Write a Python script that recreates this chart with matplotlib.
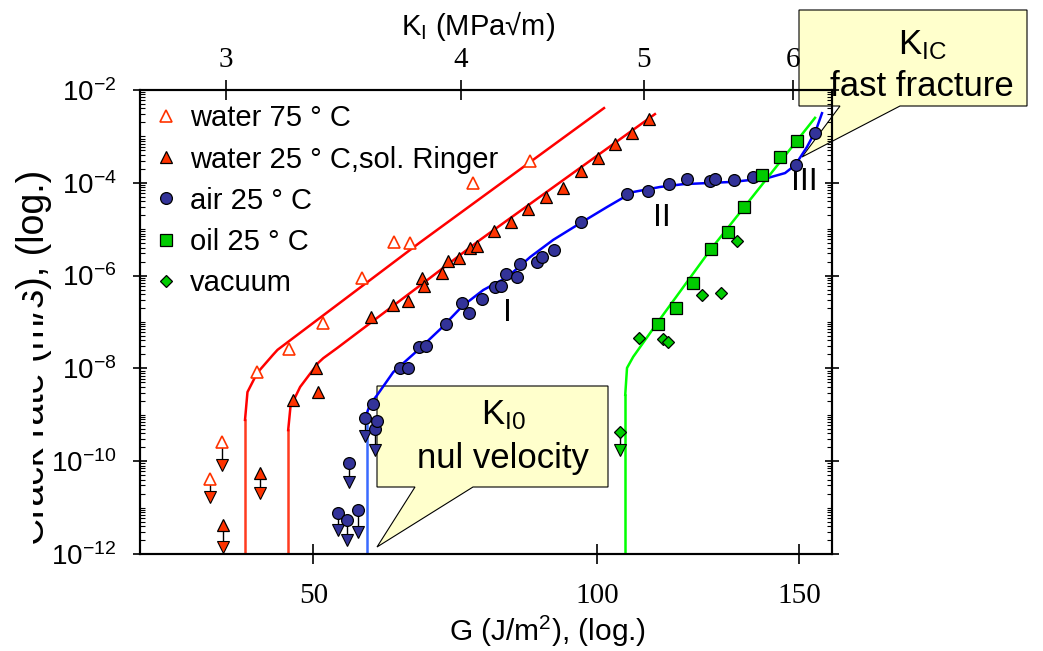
import numpy as np
import matplotlib
matplotlib.use('Agg')
import matplotlib.pyplot as plt
from matplotlib.patches import Polygon, Rectangle
from matplotlib.ticker import FixedLocator, FuncFormatter, NullLocator, NullFormatter

plt.rcParams['font.family'] = ['Liberation Sans', 'DejaVu Sans']
plt.rcParams['mathtext.default'] = 'regular'

# ---- data: G in J/m^2, crack rate as log10(v / (m/s)) ----
# water 75 C
w75_G = [42.6, 46.7, 51.3, 57.1, 62.0, 64.6, 75.5, 86.2]
w75_logv = [-8.08, -7.58, -7.02, -6.05, -5.28, -5.30, -4.00, -3.53]
w75_bnd_G = [38.4, 37.0]
w75_bnd_logv = [-9.59, -10.38]
w75_arr_logv = [-10.08, -10.77]
w75_fit_G = [41.1, 41.1, 41.4, 42.6, 44.6, 45.2, 46.9, 66.3, 101.5]
w75_fit_logv = [-12, -9.11, -8.51, -8.10, -7.71, -7.60, -7.39, -5.28, -2.39]

# water 25 C, Ringer solution
rin_G = [47.3, 50.4, 50.7, 58.5, 61.9, 64.2, 66.6, 66.9, 70.0, 71.0, 73.0, 74.9,
         76.2, 79.3, 82.5, 85.8, 89.4, 92.8, 96.6, 100.2, 103.9, 107.7, 111.7]
rin_logv = [-8.68, -7.99, -8.51, -6.89, -6.63, -6.55, -6.05, -6.22, -5.94, -5.69, -5.62, -5.41,
            -5.36, -5.04, -4.84, -4.56, -4.31, -4.11, -3.75, -3.47, -3.16, -2.93, -2.63]
rin_bnd_G = [42.9, 38.5]
rin_bnd_logv = [-10.25, -11.375]
rin_arr_logv = [-10.69, -11.85]
rin_fit_G = [46.6, 46.6, 46.9, 48.2, 50.7, 51.4, 53.4, 66.8, 76.7, 113.0]
rin_fit_logv = [-12, -9.33, -8.83, -8.40, -7.88, -7.78, -7.56, -6.16, -5.23, -2.52]

# air 25 C
air_G = [58.8, 59.4, 63.0, 64.2, 66.1, 67.3, 70.7, 73.5, 74.7, 77.1, 79.5, 80.6, 81.6, 83.7,
         84.2, 87.6, 88.6, 91.0, 96.6, 106.6, 111.4, 116.3, 120.7, 126.4, 127.6, 132.5,
         137.5, 149.1, 154.5]
air_logv = [-8.77, -9.13, -7.99, -7.99, -7.54, -7.52, -7.04, -6.59, -6.81, -6.50, -6.25, -6.22,
            -5.97, -6.03, -5.75, -5.71, -5.60, -5.45, -4.84, -4.24, -4.18, -4.03, -3.92, -3.96,
            -3.92, -3.94, -3.875, -3.62, -2.93]
air_bnd_G = [57.5, 59.1, 55.1, 53.5, 54.8, 56.5]
air_bnd_logv = [-9.07, -9.31, -10.04, -11.12, -11.27, -11.05]
air_arr_logv = [-9.46, -9.76, -10.45, -11.48, -11.70, -11.53]
air_fit_G = [57.8, 57.8, 58.3, 59.4, 61.9, 66.3, 69.7, 73.5, 77.3, 81.8, 86.2, 90.8, 96.4,
             102.2, 107.9, 114.2, 119.7, 132.2, 141.2, 146.1, 148.9, 152.2, 154.8, 156.5]
air_fit_logv = [-12, -8.96, -8.77, -8.57, -8.08, -7.56, -7.15, -6.66, -6.31, -6.03, -5.60,
                -5.23, -4.87, -4.52, -4.20, -4.09, -4.03, -3.98, -3.90, -3.79, -3.62, -3.23,
                -2.86, -2.50]

# oil 25 C
oil_G = [113.7, 118.0, 122.1, 126.7, 130.9, 135.1, 139.9, 144.7, 149.4]
oil_logv = [-7.04, -6.70, -6.16, -5.43, -5.06, -4.52, -3.83, -3.44, -3.10]

# vacuum
vac_G = [109.3, 114.9, 116.0, 124.4, 129.1, 133.2]
vac_logv = [-7.34, -7.37, -7.43, -6.42, -6.375, -5.25]
vac_bnd_G = [105.0]
vac_bnd_logv = [-9.37]
vac_arr_logv = [-9.76]
grn_fit_G = [106.2, 106.2, 106.6, 108.0, 113.7, 126.4, 154.5]
grn_fit_logv = [-12, -8.57, -7.99, -7.75, -7.00, -5.45, -2.60]

g_ticks = [50, 100, 150]
k_ticks = [3, 4, 5, 6]
y_major = [-12, -10, -8, -6, -4, -2]

RED = '#ff3300'
NAVY = '#333399'
GREEN = '#00cc00'

W, H = 1043, 651
fig = plt.figure(figsize=(W / 100, H / 100), dpi=100)
ax = fig.add_axes([140 / W, 1 - 554 / H, 692 / W, 464 / H])
ax.patch.set_visible(False)

p = 0.36
ax.set_xscale('function', functions=(lambda g: np.power(np.clip(g, 1e-9, None), p),
                                     lambda t: np.power(np.clip(t, 1e-9, None), 1 / p)))
ax.set_xlim(29.5, 159.4)
ax.set_yscale('log')
ax.set_ylim(1e-12, 1e-2)


def lv(a):
    return 10.0 ** np.asarray(a, dtype=float)


def curve(G, logv, c_main, c_thr):
    ax.plot(G[:2], lv(logv[:2]), color=c_thr, lw=1.8, zorder=2)
    ax.plot(G[1:], lv(logv[1:]), color=c_main, lw=1.8, zorder=2, solid_joinstyle='round')


def bounds(G, logv, arr, face, mk):
    ax.vlines(G, lv(arr), lv(logv), color='k', lw=1, zorder=3)
    ax.plot(G, lv(arr), ls='none', marker='v', ms=8, mfc=face, mec='k', mew=0.8, zorder=4)
    ax.plot(G, lv(logv), ls='none', zorder=5, **mk)


mk_w75 = dict(marker='^', ms=9, mfc='white', mec=RED, mew=1.2)
mk_rin = dict(marker='^', ms=9, mfc=RED, mec='k', mew=0.9)
mk_air = dict(marker='o', ms=8.5, mfc=NAVY, mec='k', mew=0.9)
mk_oil = dict(marker='s', ms=8, mfc=GREEN, mec='k', mew=0.9)
mk_vac = dict(marker='D', ms=6.3, mfc=GREEN, mec='k', mew=0.9)

curve(w75_fit_G, w75_fit_logv, '#ff0000', '#ff3b1f')
curve(rin_fit_G, rin_fit_logv, '#ff0000', '#ff3b1f')
curve(air_fit_G, air_fit_logv, '#0000ff', '#3a6bff')
curve(grn_fit_G, grn_fit_logv, '#00ff00', '#00ff00')

bounds(w75_bnd_G, w75_bnd_logv, w75_arr_logv, RED, mk_w75)
bounds(rin_bnd_G, rin_bnd_logv, rin_arr_logv, RED, mk_rin)
bounds(air_bnd_G, air_bnd_logv, air_arr_logv, NAVY, mk_air)
bounds(vac_bnd_G, vac_bnd_logv, vac_arr_logv, GREEN, mk_vac)

h1, = ax.plot(w75_G, lv(w75_logv), ls='none', zorder=5, label='water 75 ° C', **mk_w75)
h2, = ax.plot(rin_G, lv(rin_logv), ls='none', zorder=5, label='water 25 ° C,sol. Ringer', **mk_rin)
h3, = ax.plot(air_G, lv(air_logv), ls='none', zorder=5, label='air 25 ° C', **mk_air)
h4, = ax.plot(oil_G, lv(oil_logv), ls='none', zorder=5, label='oil 25 ° C', **mk_oil)
h5, = ax.plot(vac_G, lv(vac_logv), ls='none', zorder=5, label='vacuum', **mk_vac)

ax.legend(handles=[h1, h2, h3, h4, h5], loc='upper left', bbox_to_anchor=(0.0165, 0.969),
          frameon=False, fontsize=21, handlelength=1.0, handletextpad=0.32,
          labelspacing=0.45, borderpad=0, borderaxespad=0)

# stage labels
ax.text(81.8, 10 ** -6.81, 'I', fontsize=23, ha='center', va='center')
ax.text(114.7, 10 ** -4.76, 'II', fontsize=23, ha='center', va='center')
ax.text(151.6, 10 ** -3.98, 'III', fontsize=23, ha='center', va='center')

# axes styling
for s in ax.spines.values():
    s.set_linewidth(1.5)
ax.xaxis.set_major_locator(FixedLocator(g_ticks))
ax.xaxis.set_minor_locator(NullLocator())
ax.xaxis.set_major_formatter(FuncFormatter(lambda v, pos: '%d' % round(v)))
ax.tick_params(axis='x', which='major', direction='inout', length=14.4, width=1.2,
               labelsize=21, pad=13.5, top=False, labelfontfamily='Liberation Serif')

ax.yaxis.set_major_locator(FixedLocator([10.0 ** e for e in y_major]))
minor = [k * 10.0 ** e for e in range(-12, -2) for k in range(1, 10)
         if not (k == 1 and e in y_major)]
ax.yaxis.set_minor_locator(FixedLocator(minor))
ax.yaxis.set_minor_formatter(NullFormatter())
ax.yaxis.set_major_formatter(FuncFormatter(
    lambda v, pos: r'$\mathregular{10^{%d}}$' % round(np.log10(v))))
ax.tick_params(axis='y', which='major', direction='inout', length=10, width=1.2,
               labelsize=20, pad=12, right=True)
ax.tick_params(axis='y', which='minor', direction='in', length=3.6, width=0.8, right=True)

ax.set_xlabel('G (J/m$^2$), (log.)', fontsize=21.5)
ax.xaxis.set_label_coords((548 - 140) / 692, -0.128)
ax.set_ylabel('Crack rate (m/s), (log.)', fontsize=27)
ax.yaxis.set_label_coords((52 - 140) / 692, 0.4246)

# top axis: stress intensity factor
ax2 = ax.twiny()
ax2.set_xscale('log')
ax2.set_xlim(2.701, 6.296)
ax2.xaxis.set_major_locator(FixedLocator(k_ticks))
ax2.xaxis.set_minor_locator(NullLocator())
ax2.xaxis.set_major_formatter(FuncFormatter(lambda v, pos: '%d' % round(v)))
ax2.tick_params(axis='x', which='major', direction='inout', length=14.4, width=1.2,
                labelsize=21, pad=5, labelfontfamily='Liberation Serif')
for s in ax2.spines.values():
    s.set_linewidth(1.5)
ax2.set_xlabel('K$_I$ (MPa√m)', fontsize=21)
ax2.xaxis.set_label_coords((478 - 140) / 692, 1.118)


# callouts (figure pixel positions)
def fp(x, y):
    return (x / W, 1 - y / H)


def callout(pts, lines):
    fig.add_artist(Polygon([fp(*q) for q in pts], closed=True, transform=fig.transFigure,
                           facecolor='#ffffcc', edgecolor='k', lw=0.8, zorder=-1))
    for x, y, s in lines:
        fig.text(*fp(x, y), s, ha='center', va='baseline', fontsize=25, zorder=-0.5)


callout([(799, 10), (1027, 10), (1027, 106), (900, 106), (802, 157), (840, 106), (799, 106)],
        [(922, 54, r'$\mathregular{K_{IC}}$'), (922, 96, 'fast fracture')])
callout([(377, 386), (608, 386), (608, 487), (473, 487), (377, 547), (415, 487), (377, 487)],
        [(503, 424, r'$\mathregular{K_{I0}}$'), (503, 468, 'nul velocity')])

# the lower part of the axis title is masked in the original figure
fig.add_artist(Rectangle(fp(0, 651), 33 / W, (651 - 300) / H, transform=fig.transFigure,
                         facecolor='white', edgecolor='none', zorder=5))

fig.savefig('out.png', dpi=100)
